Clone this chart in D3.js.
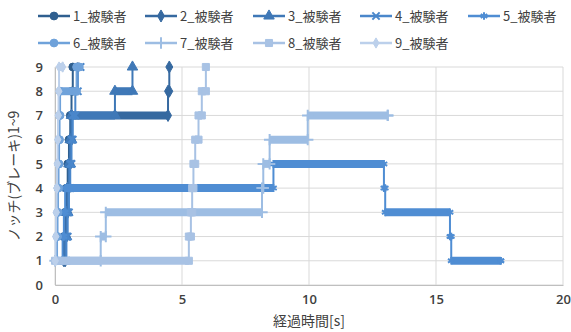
<!DOCTYPE html>
<html>
<head>
<meta charset="utf-8">
<script src="https://cdn.jsdelivr.net/npm/d3@7"></script>
<style>
  html, body { margin: 0; padding: 0; background: #fff; }
  svg { display: block; font-family: "Noto Sans CJK JP", "Noto Sans", sans-serif; }
</style>
</head>
<body>
<svg id="chart" width="571" height="332"></svg>
<script>
// Brake notch (1–9) over elapsed time for nine test subjects.
// Each series: time at which a notch level begins, and that level.
const seriesNames = ["1_被験者", "2_被験者", "3_被験者", "4_被験者", "5_被験者",
                     "6_被験者", "7_被験者", "8_被験者", "9_被験者"];

const time1  = [0.30, 0.35, 0.40, 0.45, 0.50, 0.55, 0.60, 0.65, 0.70, 0.90];
const level1 = [1, 2, 3, 4, 5, 6, 7, 8, 9, 9];

const time2  = [0.35, 0.40, 0.45, 0.50, 0.55, 0.60, 0.65, 4.45, 4.50];
const level2 = [1, 2, 3, 4, 5, 6, 7, 8, 9];

const time3  = [0.35, 0.40, 0.45, 0.50, 0.55, 0.60, 0.65, 2.36, 3.05];
const level3 = [1, 2, 3, 4, 5, 6, 7, 8, 9];

const time4  = [0.40, 0.45, 0.50, 0.55, 0.60, 0.65, 0.70, 0.80, 0.90, 1.00];
const level4 = [1, 2, 3, 4, 5, 6, 7, 8, 9, 9];

const time5  = [0.25, 0.30, 0.35, 0.40, 8.60, 12.95, 13.00, 15.55, 15.60, 17.55];
const level5 = [1, 2, 3, 4, 5, 4, 3, 2, 1, 1];

const time6  = [0.05, 0.08, 0.10, 0.12, 0.14, 0.16, 0.18, 0.20, 0.85, 0.95];
const level6 = [1, 2, 3, 4, 5, 6, 7, 8, 9, 9];

const time7  = [0.00, 1.80, 2.00, 8.15, 8.20, 8.45, 9.95, 13.10];
const level7 = [1, 2, 3, 4, 5, 6, 7, 7];

const time8  = [0.00, 5.27, 5.35, 5.40, 5.45, 5.52, 5.65, 5.78, 5.94];
const level8 = [1, 2, 3, 4, 5, 6, 7, 8, 9];

const time9  = [0.00, 0.02, 0.04, 0.06, 0.08, 0.10, 0.12, 0.14, 0.16, 0.30];
const level9 = [1, 2, 3, 4, 5, 6, 7, 8, 9, 9];

const seriesTimes  = [time1, time2, time3, time4, time5, time6, time7, time8, time9];
const seriesLevels = [level1, level2, level3, level4, level5, level6, level7, level8, level9];

const xTickValues = [0, 5, 10, 15, 20];
const yTickValues = [0, 1, 2, 3, 4, 5, 6, 7, 8, 9];
const xTitle = "経過時間[s]";
const yTitle = "ノッチ(ブレーキ)1~9";

// Styling
const colors = ["#2f5f8f", "#3669a0", "#3f78b7", "#4a87cb", "#4f8dd3",
                "#6fa2da", "#9dbde3", "#a8c2e4", "#bcd0eb"];
const symbolTypes = [d3.symbolCircle, d3.symbolDiamond, d3.symbolTriangle, d3.symbolTimes,
                     d3.symbolAsterisk, d3.symbolCircle, d3.symbolPlus, d3.symbolSquare, d3.symbolDiamond];
const strokeSymbols = new Set([d3.symbolTimes, d3.symbolAsterisk, d3.symbolPlus]);
const symbolSizes = [48, 42, 48, 36, 40, 48, 44, 50, 30];

const svg = d3.select("#chart");
const plot = { left: 55, right: 563, top: 67, bottom: 285 };

const x = d3.scaleLinear().domain([0, 20]).range([plot.left, plot.right]);
const y = d3.scaleLinear().domain([0, 9]).range([plot.bottom, plot.top]);

// Gridlines
const grid = svg.append("g");
grid.selectAll("line.h").data(yTickValues).join("line")
  .attr("x1", plot.left).attr("x2", plot.right)
  .attr("y1", d => y(d)).attr("y2", d => y(d))
  .attr("stroke", "#d9d9d9").attr("stroke-width", 1);
grid.selectAll("line.v").data(xTickValues).join("line")
  .attr("y1", plot.top).attr("y2", plot.bottom)
  .attr("x1", d => x(d)).attr("x2", d => x(d))
  .attr("stroke", "#d9d9d9").attr("stroke-width", 1);

// Axes (labels only, lines from gridlines)
const xAxis = svg.append("g").attr("transform", `translate(0,${plot.bottom})`)
  .call(d3.axisBottom(x).tickValues(xTickValues).tickSize(0).tickPadding(10));
const yAxis = svg.append("g").attr("transform", `translate(${plot.left},0)`)
  .call(d3.axisLeft(y).tickValues(yTickValues).tickSize(0).tickPadding(12));
[xAxis, yAxis].forEach(a => {
  a.select(".domain").attr("stroke", "#bfbfbf");
  a.selectAll("text").attr("font-size", 13).attr("fill", "#404040")
    .attr("font-family", "'Open Sans', 'Noto Sans', sans-serif").attr("font-weight", 600);
});

// Axis titles
svg.append("text").attr("x", (plot.left + plot.right) / 2).attr("y", 326)
  .attr("text-anchor", "middle").attr("font-size", 14).attr("fill", "#404040")
  .text(xTitle);
svg.append("text")
  .attr("transform", `translate(19,${(plot.top + plot.bottom) / 2}) rotate(-90)`)
  .attr("text-anchor", "middle").attr("font-size", 14).attr("fill", "#404040")
  .text(yTitle);

// Series
function drawMarker(g, i, cx, cy) {
  const type = symbolTypes[i];
  const isStroke = strokeSymbols.has(type);
  g.append("path")
    .attr("d", d3.symbol().type(type).size(symbolSizes[i])())
    .attr("transform", `translate(${cx},${cy})`)
    .attr("fill", isStroke ? "none" : colors[i])
    .attr("stroke", colors[i])
    .attr("stroke-width", isStroke ? 2 : 1);
}

const line = d3.line().curve(d3.curveStepAfter).x(d => x(d.t)).y(d => y(d.v));

seriesTimes.forEach((times, i) => {
  const levels = seriesLevels[i];
  const pts = times.map((t, k) => ({ t, v: levels[k] }));
  const g = svg.append("g");
  g.append("path").datum(pts).attr("d", line)
    .attr("fill", "none").attr("stroke", colors[i]).attr("stroke-width", 2);
  // Held levels form a dense band of markers
  for (let k = 0; k < pts.length - 1; k++) {
    if (pts[k + 1].t > pts[k].t) {
      g.append("line")
        .attr("x1", x(pts[k].t)).attr("x2", x(pts[k + 1].t))
        .attr("y1", y(pts[k].v)).attr("y2", y(pts[k].v))
        .attr("stroke", colors[i]).attr("stroke-width", 8);
    }
  }
  pts.forEach((p, k) => {
    drawMarker(g, i, x(p.t), y(p.v));
    if (k < pts.length - 1) drawMarker(g, i, x(pts[k + 1].t), y(p.v));
  });
});

// Legend
const legendX = [38, 145, 253, 360, 468];
const legendY = [16, 43];
seriesNames.forEach((name, i) => {
  const lx = legendX[i % 5], ly = legendY[Math.floor(i / 5)];
  const g = svg.append("g");
  g.append("line").attr("x1", lx).attr("x2", lx + 32).attr("y1", ly).attr("y2", ly)
    .attr("stroke", colors[i]).attr("stroke-width", 2.5);
  drawMarker(g, i, lx + 16, ly);
  g.append("text").attr("x", lx + 35).attr("y", ly + 5)
    .attr("font-size", 13).attr("fill", "#404040").text(name);
});
</script>
</body>
</html>
